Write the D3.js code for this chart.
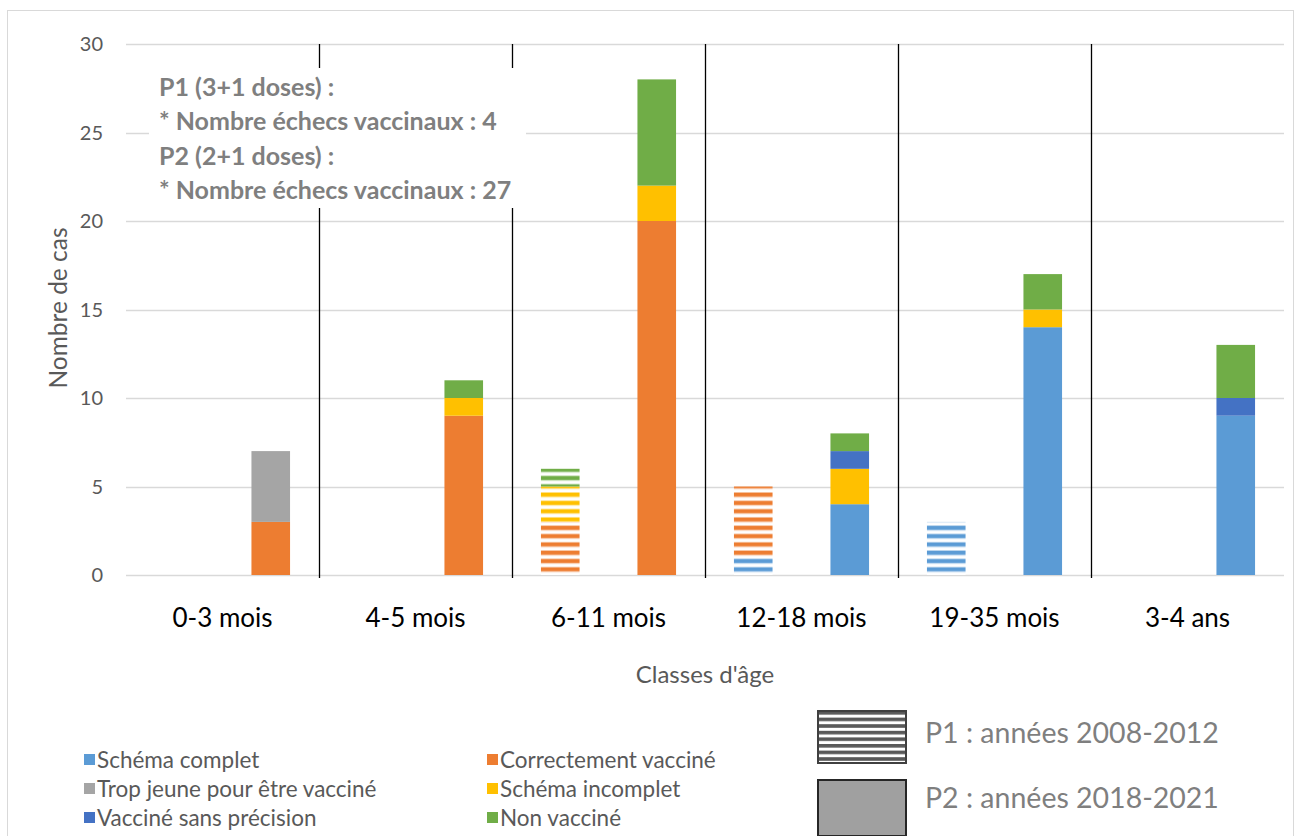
<!DOCTYPE html>
<html><head><meta charset="utf-8">
<script src="https://cdn.jsdelivr.net/npm/d3@7"></script>
<style>body{margin:0;background:#fff;font-family:Lato,"Open Sans",sans-serif;}</style>
</head><body><svg id="c" width="1296" height="836"></svg>
<script>
const categories = ["0-3 mois","4-5 mois","6-11 mois","12-18 mois","19-35 mois","3-4 ans"];
const periods = ["P1","P2"];
const seriesNames = ["Schéma complet","Correctement vacciné","Trop jeune pour être vacciné","Schéma incomplet","Vacciné sans précision","Non vacciné"];
const seriesColors = ["#5B9BD5","#ED7D31","#A5A5A5","#FFC000","#4472C4","#70AD47"];
// values per category, order of seriesNames
const p1Values = [
  [0,0,0,0,0,0],
  [0,0,0,0,0,0],
  [0,3,0,2,0,1],
  [1,4,0,0,0,0],
  [3,0,0,0,0,0],
  [0,0,0,0,0,0]
];
const p2Values = [
  [0,3,4,0,0,0],
  [0,9,0,1,0,1],
  [0,20,0,2,0,6],
  [4,0,0,2,1,1],
  [14,0,0,1,0,2],
  [9,0,0,0,1,3]
];
const yTicks = [0,5,10,15,20,25,30];
const annotationLines = ["P1 (3+1 doses) :","* Nombre échecs vaccinaux : 4","P2 (2+1 doses) :","* Nombre échecs vaccinaux : 27"];
const periodLegend = ["P1 : années 2008-2012","P2 : années 2018-2021"];

const svg = d3.select("#c");
const defs = svg.append("defs");
// outer frame
svg.append("rect").attr("x",7.5).attr("y",10.5).attr("width",1286).attr("height",830)
  .attr("fill","none").attr("stroke","#d9d9d9");

const x = d3.scaleBand().domain(categories).range([126,1284]).padding(0);
const xs = d3.scaleBand().domain(periods).range([0,x.bandwidth()]).paddingInner(0.6).paddingOuter(0.3);
const y = d3.scaleLinear().domain([0,30]).range([575,44]);

// grid
svg.append("g").selectAll("line").data(yTicks).join("line")
  .attr("x1",126).attr("x2",1284).attr("y1",d=>Math.round(y(d))+0.5).attr("y2",d=>Math.round(y(d))+0.5)
  .attr("stroke","#d9d9d9").attr("stroke-width",1.3);
svg.append("g").selectAll("text").data(yTicks).join("text")
  .attr("x",103).attr("y",d=>y(d)+7).attr("text-anchor","end")
  .attr("font-size",20).attr("fill","#595959").text(d=>d);

// patterns
seriesColors.forEach((c,i)=>{
  const p = defs.append("pattern").attr("id","h"+i).attr("patternUnits","userSpaceOnUse")
    .attr("width",8).attr("height",8.3).attr("y",y(0));
  p.append("rect").attr("width",8).attr("height",8.3).attr("fill","#fff");
  p.append("rect").attr("y",0.5).attr("width",8).attr("height",4).attr("fill",c);
  p.append("rect").attr("y",4.5).attr("width",8).attr("height",1.2).attr("fill",c).attr("opacity",0.35);
});
const hp = defs.append("pattern").attr("id","hleg").attr("patternUnits","userSpaceOnUse")
  .attr("width",8).attr("height",6.6).attr("y",711);
hp.append("rect").attr("width",8).attr("height",6.6).attr("fill","#fff");
hp.append("rect").attr("y",0).attr("width",8).attr("height",3.6).attr("fill","#595959");

// bars
const stackGen = d3.stack().keys(d3.range(seriesNames.length));
[p1Values,p2Values].forEach((vals,pi)=>{
  const stacked = stackGen(vals);
  stacked.forEach((layer,si)=>{
    svg.append("g").selectAll("rect").data(layer.map((d,ci)=>({d,ci}))).join("rect")
      .filter(o=>o.d[1]-o.d[0]>0)
      .attr("x",o=>x(categories[o.ci])+xs(periods[pi]))
      .attr("width",xs.bandwidth())
      .attr("y",o=>y(o.d[1]))
      .attr("height",o=>y(o.d[0])-y(o.d[1]))
      .attr("fill",pi===0?`url(#h${si})`:seriesColors[si]);
  });
});

// separators
svg.append("g").selectAll("line").data(categories.slice(1)).join("line")
  .attr("x1",d=>Math.round(x(d))+0.5).attr("x2",d=>Math.round(x(d))+0.5)
  .attr("y1",44).attr("y2",578).attr("stroke","#000").attr("stroke-width",1.3);

// annotation box
svg.append("rect").attr("x",149).attr("y",68).attr("width",377).attr("height",140).attr("fill","#fff");
svg.append("g").selectAll("text").data(annotationLines).join("text")
  .attr("x",159).attr("y",(d,i)=>96+i*34.4).attr("font-size",25).attr("font-weight","bold")
  .attr("fill","#7f7f7f").text(d=>d);

// x labels
svg.append("g").selectAll("text").data(categories).join("text")
  .attr("x",d=>x(d)+x.bandwidth()/2).attr("y",627).attr("text-anchor","middle")
  .attr("font-size",26).attr("fill","#000").text(d=>d);
svg.append("text").attr("x",705).attr("y",683).attr("text-anchor","middle")
  .attr("font-size",24).attr("fill","#595959").text("Classes d'âge");
svg.append("text").attr("transform","translate(67,308) rotate(-90)").attr("text-anchor","middle")
  .attr("font-size",24.5).attr("fill","#595959").text("Nombre de cas");

// series legend
const lg = svg.append("g").selectAll("g").data(seriesNames).join("g")
  .attr("transform",(d,i)=>`translate(${i%2===0?84:487},${760+Math.floor(i/2)*29})`);
lg.append("rect").attr("x",0).attr("y",-6).attr("width",11).attr("height",11).attr("fill",(d,i)=>seriesColors[i]);
lg.append("text").attr("x",13).attr("y",8).attr("font-size",22.5).attr("fill","#595959").text(d=>d);

// period legend
svg.append("rect").attr("x",818).attr("y",711).attr("width",88).attr("height",52)
  .attr("fill","url(#hleg)").attr("stroke","#404040").attr("stroke-width",2);
svg.append("rect").attr("x",818).attr("y",780).attr("width",88).attr("height",56)
  .attr("fill","#A0A0A0").attr("stroke","#262626").attr("stroke-width",2);
svg.append("g").selectAll("text").data(periodLegend).join("text")
  .attr("x",925).attr("y",(d,i)=>743+i*65).attr("font-size",28.5).attr("fill","#7f7f7f").text(d=>d);
</script></body></html>
